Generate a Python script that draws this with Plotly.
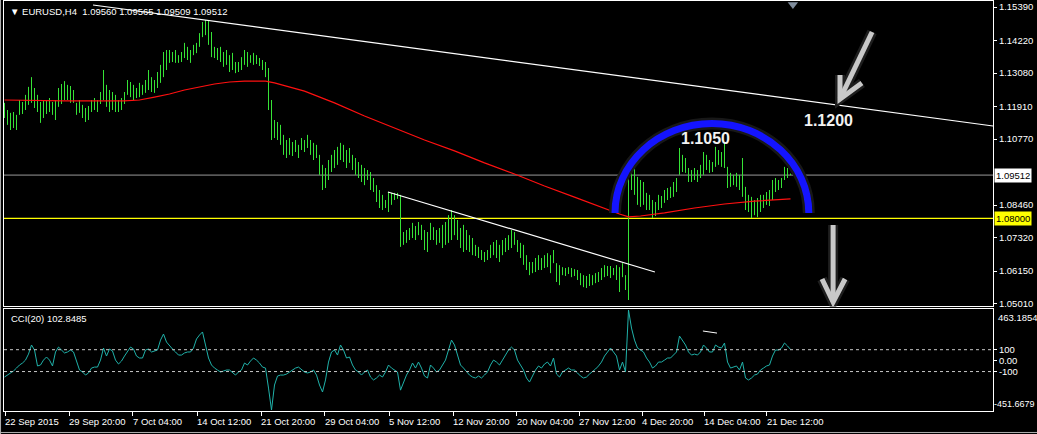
import plotly.graph_objects as go

# ---------------- data ----------------
highs = [1.1204, 1.1179, 1.1169, 1.1172, 1.1162, 1.1214, 1.1207, 1.1232, 1.1260, 1.1294,
         1.1256, 1.1232, 1.1207, 1.1214, 1.1214, 1.1221, 1.1207, 1.1214, 1.1256, 1.1270,
         1.1280, 1.1267, 1.1263, 1.1249, 1.1204, 1.1214, 1.1197, 1.1186, 1.1193, 1.1214,
         1.1221, 1.1214, 1.1242, 1.1319, 1.1267, 1.1249, 1.1242, 1.1232, 1.1214, 1.1221,
         1.1242, 1.1284, 1.1277, 1.1267, 1.1256, 1.1274, 1.1267, 1.1284, 1.1319, 1.1294,
         1.1284, 1.1312, 1.1337, 1.1382, 1.1389, 1.1389, 1.1382, 1.1389, 1.1371, 1.1382,
         1.1414, 1.1400, 1.1389, 1.1407, 1.1414, 1.1448, 1.1487, 1.1494, 1.1494, 1.1452,
         1.1400, 1.1396, 1.1400, 1.1382, 1.1389, 1.1371, 1.1379, 1.1347, 1.1347, 1.1364,
         1.1389, 1.1382, 1.1371, 1.1379, 1.1371, 1.1361, 1.1354, 1.1347, 1.1326, 1.1214,
         1.1144, 1.1137, 1.1127, 1.1092, 1.1074, 1.1081, 1.1067, 1.1074, 1.1057, 1.1081,
         1.1074, 1.1092, 1.1074, 1.1064, 1.1057, 1.1022, 1.0987, 1.0976, 1.1004, 1.1022,
         1.1039, 1.1050, 1.1064, 1.1057, 1.1039, 1.1046, 1.1022, 1.1011, 1.0997, 1.0987,
         1.0976, 1.0969, 1.0962, 1.0941, 1.0916, 1.0899, 1.0882, 1.0864, 1.0892, 1.0889,
         1.0889, 1.0889, 1.0882, 1.0752, 1.0759, 1.0766, 1.0784, 1.0773, 1.0787, 1.0777,
         1.0759, 1.0752, 1.0784, 1.0769, 1.0759, 1.0766, 1.0777, 1.0787, 1.0811, 1.0829,
         1.0811, 1.0794, 1.0766, 1.0777, 1.0759, 1.0741, 1.0731, 1.0707, 1.0700, 1.0689,
         1.0682, 1.0689, 1.0707, 1.0717, 1.0724, 1.0707, 1.0724, 1.0731, 1.0741, 1.0759,
         1.0752, 1.0724, 1.0714, 1.0707, 1.0671, 1.0647, 1.0647, 1.0661, 1.0671, 1.0661,
         1.0671, 1.0678, 1.0671, 1.0689, 1.0643, 1.0636, 1.0629, 1.0626, 1.0629, 1.0626,
         1.0622, 1.0619, 1.0608, 1.0601, 1.0598, 1.0605, 1.0601, 1.0608, 1.0612, 1.0626,
         1.0636, 1.0633, 1.0633, 1.0626, 1.0636, 1.0629, 1.0643, 1.0601, 1.0987, 1.0980,
         1.0976, 1.0945, 1.0934, 1.0927, 1.0889, 1.0882, 1.0864, 1.0857, 1.0882, 1.0878,
         1.0899, 1.0906, 1.0910, 1.0927, 1.0941, 1.1046, 1.1022, 1.1011, 1.0976, 1.0969,
         1.0976, 1.0969, 1.0987, 1.1032, 1.1022, 1.1004, 1.0997, 1.1050, 1.1039, 1.1032,
         1.1064, 1.0980, 1.0959, 1.0952, 1.0959, 1.0952, 1.1011, 1.0910, 1.0882, 1.0875,
         1.0864, 1.0871, 1.0882, 1.0882, 1.0892, 1.0899, 1.0934, 1.0941, 1.0934, 1.0941,
         1.0980, 1.0976, 1.09565]

lows = [1.1151, 1.1127, 1.1109, 1.1116, 1.1109, 1.1162, 1.1165, 1.1179, 1.1197, 1.1204,
        1.1186, 1.1172, 1.1134, 1.1151, 1.1165, 1.1172, 1.1162, 1.1144, 1.1190, 1.1200,
        1.1214, 1.1214, 1.1204, 1.1204, 1.1162, 1.1169, 1.1151, 1.1137, 1.1144, 1.1172,
        1.1179, 1.1172, 1.1200, 1.1214, 1.1190, 1.1172, 1.1179, 1.1172, 1.1172, 1.1179,
        1.1200, 1.1232, 1.1224, 1.1214, 1.1221, 1.1224, 1.1232, 1.1239, 1.1249, 1.1242,
        1.1239, 1.1256, 1.1274, 1.1294, 1.1319, 1.1344, 1.1347, 1.1344, 1.1344, 1.1347,
        1.1361, 1.1354, 1.1344, 1.1371, 1.1378, 1.1400, 1.1434, 1.1441, 1.1407, 1.1364,
        1.1361, 1.1354, 1.1347, 1.1330, 1.1337, 1.1312, 1.1319, 1.1308, 1.1312, 1.1319,
        1.1337, 1.1330, 1.1344, 1.1337, 1.1340, 1.1333, 1.1319, 1.1294, 1.1179, 1.1074,
        1.1081, 1.1074, 1.1057, 1.1022, 1.1011, 1.1022, 1.1018, 1.1032, 1.1011, 1.1039,
        1.1032, 1.1046, 1.1022, 1.1004, 1.1011, 1.0952, 1.0899, 1.0906, 1.0934, 1.0962,
        1.0976, 1.0987, 1.1004, 1.0997, 1.0976, 1.0994, 1.0969, 1.0952, 1.0941, 1.0927,
        1.0916, 1.0934, 1.0899, 1.0892, 1.0857, 1.0836, 1.0829, 1.0836, 1.0822, 1.0847,
        1.0864, 1.0868, 1.0700, 1.0707, 1.0714, 1.0724, 1.0731, 1.0724, 1.0741, 1.0724,
        1.0689, 1.0682, 1.0724, 1.0724, 1.0707, 1.0714, 1.0696, 1.0707, 1.0714, 1.0724,
        1.0741, 1.0724, 1.0696, 1.0682, 1.0689, 1.0682, 1.0671, 1.0668, 1.0661, 1.0654,
        1.0647, 1.0654, 1.0661, 1.0671, 1.0661, 1.0647, 1.0671, 1.0682, 1.0689, 1.0696,
        1.0707, 1.0682, 1.0661, 1.0637, 1.0619, 1.0601, 1.0608, 1.0612, 1.0619, 1.0619,
        1.0626, 1.0629, 1.0608, 1.0643, 1.0577, 1.0566, 1.0601, 1.0598, 1.0605, 1.0594,
        1.0598, 1.0584, 1.0566, 1.0559, 1.0556, 1.0563, 1.0566, 1.0573, 1.0577, 1.0584,
        1.0594, 1.0598, 1.0591, 1.0601, 1.0584, 1.0542, 1.0594, 1.0549, 1.0514, 1.0899,
        1.0882, 1.0847, 1.0840, 1.0847, 1.0829, 1.0829, 1.0801, 1.0808, 1.0829, 1.0836,
        1.0854, 1.0864, 1.0871, 1.0875, 1.0892, 1.0952, 1.0962, 1.0959, 1.0927, 1.0927,
        1.0934, 1.0927, 1.0941, 1.0952, 1.0969, 1.0959, 1.0962, 1.0980, 1.0987, 1.0980,
        1.0976, 1.0906, 1.0910, 1.0916, 1.0910, 1.0899, 1.0875, 1.0829, 1.0822, 1.0801,
        1.0811, 1.0804, 1.0822, 1.0836, 1.0847, 1.0843, 1.0864, 1.0892, 1.0899, 1.0906,
        1.0934, 1.0941, 1.09509]

ma_idx = [0, 20, 40, 45, 50, 55, 60, 65, 70, 75, 80, 87, 90, 100, 110, 120, 130, 140,
          150, 160, 170, 180, 190, 200, 205, 208, 212, 220, 230, 240, 250, 262]
ma_vals = [1.1214, 1.1211, 1.1211, 1.1214, 1.1224, 1.1235, 1.1249, 1.1260, 1.1270, 1.1277,
           1.1280, 1.1280, 1.1274, 1.1245, 1.1204, 1.1158, 1.1116, 1.1074, 1.1036, 1.0994,
           1.0955, 1.0913, 1.0874, 1.0833, 1.0815, 1.0805, 1.0808, 1.0819, 1.0836, 1.0850,
           1.0860, 1.0868]

cci = [-150, -132, -113, -95, -68, -40, -22, 5, 60, 143,
       97, -49, -40, 5, 33, 5, -49, 79, 124, 97,
       70, 79, 97, 79, -13, -86, -104, -132, -113, -68,
       -59, -59, 5, 115, 42, 106, 88, 5, -31, -4,
       42, 88, 124, 106, 42, 24, 24, 97, 106, 79,
       88, 97, 188, 243, 170, 134, 106, 79, 51, 51,
       70, 79, 79, 115, 198, 234, 262, 143, 24, -40,
       -68, -86, -104, -95, -86, -86, -113, -132, -104, -86,
       -22, -40, -4, 24, 5, -22, -59, -68, -251, -451.6679,
       -223, -141, -132, -132, -123, -104, -86, -68, -59, -86,
       -104, -113, -104, -86, -132, -223, -287, -177, -13, 79,
       97, 51, 143, 97, 24, 33, -40, -86, -104, -132,
       -104, -86, -150, -177, -159, -132, -150, -104, -40, -68,
       -86, -104, -270, -196, -132, -86, -22, -68, -13, -68,
       -141, -159, -40, -68, -104, -86, -40, 5, 97, 188,
       143, 51, -40, -68, -104, -132, -150, -159, -141, -159,
       -132, -104, -40, 5, -13, -40, 5, 51, 97, 124,
       97, 5, -40, -86, -159, -196, -141, -86, -49, -68,
       -31, -13, -49, 24, -123, -150, -104, -86, -68, -86,
       -86, -113, -141, -159, -150, -123, -104, -77, -49, -13,
       42, 79, 115, 79, 42, -86, -13, -104, 463.1854, 298,
       188, 115, 97, 79, 24, -13, -68, -49, -13, -13,
       5, 24, 24, 51, 79, 225, 188, 143, 79, 51,
       60, 51, 79, 143, 115, 79, 79, 143, 124, 115,
       161, -13, -68, -59, -49, -86, -13, -159, -177, -159,
       -132, -123, -86, -68, -49, -40, 42, 97, 97, 115,
       161, 134, 102.8485]

price_ticks = [1.1539, 1.1422, 1.1308, 1.1191, 1.1077, 1.0846, 1.0732, 1.0615, 1.0501]
cci_ticks = [100, 0, -100]
cci_tick_text = ["100", "0.00", "-100"]
time_labels = ["22 Sep 2015", "29 Sep 20:00", "7 Oct 04:00", "14 Oct 12:00", "21 Oct 20:00",
               "29 Oct 04:00", "5 Nov 12:00", "12 Nov 20:00", "20 Nov 04:00", "27 Nov 12:00",
               "4 Dec 20:00", "14 Dec 04:00", "21 Dec 12:00"]
time_tick_idx = [0.17, 21.5, 42.8, 64.2, 85.5, 106.8, 128.2, 149.5, 170.8, 191.5, 212.5, 233.2, 254.0]

current_price = 1.09512
support_level = 1.08000
cci_max, cci_min = 463.1854, -451.6679

# drawings (trendlines / arrows / arc) in chart coordinates
upper_trend = ([29.5, 329.5], [1.15465, 1.1123])
lower_trend = ([127.8, 216.8], [1.0892, 1.0612])

# ---------------- figure ----------------
n = len(highs)
bx, by = [], []
for i in range(n):
    bx += [i, i, None]
    by += [lows[i], highs[i], None]

WHITE = "#ffffff"
FONT = "Liberation Sans"

fig = go.Figure()
fig.add_trace(go.Scatter(x=bx, y=by, mode="lines", line=dict(color="#36e336", width=1),
                         hoverinfo="skip", xaxis="x", yaxis="y"))
fig.add_trace(go.Scatter(x=ma_idx, y=ma_vals, mode="lines", line=dict(color="#ff1010", width=1.2),
                         hoverinfo="skip", xaxis="x", yaxis="y"))
fig.add_trace(go.Scatter(x=list(range(len(cci))), y=cci, mode="lines",
                         line=dict(color="#20b2aa", width=1), hoverinfo="skip",
                         xaxis="x2", yaxis="y2"))
# chart shift marker
fig.add_trace(go.Scatter(x=[262.8], y=[1.1548], mode="markers", cliponaxis=False,
                         marker=dict(symbol="triangle-down", size=9, color="#7f8c9c"),
                         hoverinfo="skip", xaxis="x", yaxis="y"))

xr = [-0.1667, 329.5]
ax_common = dict(showgrid=False, zeroline=False, showline=True, mirror=True,
                 linecolor=WHITE, linewidth=1)
fig.update_layout(
    width=1037, height=434,
    margin=dict(l=4, r=44, t=1, b=23, autoexpand=False),
    paper_bgcolor="#000000", plot_bgcolor="#000000",
    showlegend=False,
    hovermode=False,
    xaxis=dict(domain=[0, 1], range=xr, anchor="y", showticklabels=False, ticks="", **ax_common),
    yaxis=dict(domain=[0.2549, 1], range=[1.04913, 1.15605], side="right", anchor="x",
               tickvals=price_ticks, ticktext=[f"{v:.5f}" for v in price_ticks],
               ticks="outside", ticklen=3, tickcolor=WHITE,
               tickfont=dict(color=WHITE, size=9.5, family=FONT), **ax_common),
    xaxis2=dict(domain=[0, 1], range=xr, anchor="y2", tickvals=time_tick_idx,
                showticklabels=False, ticks="outside", ticklen=4, tickcolor=WHITE, **ax_common),
    yaxis2=dict(domain=[0, 0.2488], range=[-460.8, 472.3], side="right", anchor="x2",
                tickvals=cci_ticks, ticktext=cci_tick_text,
                ticks="outside", ticklen=3, tickcolor=WHITE,
                tickfont=dict(color=WHITE, size=9.5, family=FONT), **ax_common),
)

shapes = []
# horizontal levels
shapes.append(dict(type="line", xref="x domain", x0=0, x1=1, yref="y", y0=current_price, y1=current_price,
                   line=dict(color="#9a9a9a", width=1), layer="below"))
shapes.append(dict(type="line", xref="x domain", x0=0, x1=1, yref="y", y0=support_level, y1=support_level,
                   line=dict(color="#ffff00", width=1.2), layer="below"))
# trendlines
for (xs, ys) in (upper_trend, lower_trend):
    shapes.append(dict(type="line", xref="x", yref="y", x0=xs[0], x1=xs[1], y0=ys[0], y1=ys[1],
                       line=dict(color=WHITE, width=1.2)))
# CCI levels
for lv in (100, -100):
    shapes.append(dict(type="line", xref="x2 domain", x0=0, x1=1, yref="y2", y0=lv, y1=lv,
                       line=dict(color="#c8c8c8", width=1, dash="3px,3px")))
# small drawn dash in CCI window
shapes.append(dict(type="line", xref="x2", yref="y2", x0=232.8, x1=237.5, y0=271, y1=252,
                   line=dict(color=WHITE, width=1)))

# blue half-ellipse ("cup") made of two cubic Bezier quarters
cx, cy, rx, ry, k = 235.8, 1.08185, 32.3, 0.0313, 0.5523
arc = (f"M {cx-rx},{cy} C {cx-rx},{cy+k*ry} {cx-k*rx},{cy+ry} {cx},{cy+ry} "
       f"C {cx+k*rx},{cy+ry} {cx+rx},{cy+k*ry} {cx+rx},{cy}")
shapes.append(dict(type="path", xref="x", yref="y", path=arc, line=dict(color="#181818", width=12)))
shapes.append(dict(type="path", xref="x", yref="y", path=arc, line=dict(color="#1414ff", width=7)))

# gray arrows
arrows = [
    [(289.2, 1.1452), (278.5, 1.12175)],
    [(278.5, 1.13015), (278.5, 1.12175), (285.8, 1.12735)],
    [(276.2, 1.07765), (276.2, 1.0507)],
    [(272.5, 1.05875), (276.2, 1.0507), (280.2, 1.05875)],
]
for col, w in (("#1e1e1e", 10), ("#c8c8c8", 5)):
    for pts in arrows:
        p = "M " + " L ".join(f"{a},{b}" for a, b in pts)
        shapes.append(dict(type="path", xref="x", yref="y", path=p,
                           line=dict(color=col, width=w)))

# outer window border (left & bottom)
shapes.append(dict(type="line", xref="paper", yref="paper", x0=-0.0035, x1=-0.0035, y0=-0.06, y1=1.01,
                   line=dict(color="#b0b0b0", width=1)))
shapes.append(dict(type="line", xref="paper", yref="paper", x0=-0.01, x1=1.05, y0=-0.0524, y1=-0.0524,
                   line=dict(color="#b0b0b0", width=1)))
fig.update_layout(shapes=shapes)

ann = []
NB = "\u00a0"
ann.append(dict(xref="paper", yref="paper", x=0.004, y=0.9732, xanchor="left", yanchor="middle",
                text=f"▼{NB}EURUSD,H4{NB}{NB}1.09560{NB}1.09565{NB}1.09509{NB}1.09512",
                showarrow=False, font=dict(color=WHITE, size=9.5, family=FONT)))
ann.append(dict(xref="paper", yref="paper", x=0.005, y=0.2244, xanchor="left", yanchor="middle",
                text=f"CCI(20){NB}{cci[-1]:.4f}", showarrow=False,
                font=dict(color=WHITE, size=9.5, family=FONT)))
# time axis labels
for lab, xi in zip(time_labels, time_tick_idx):
    ann.append(dict(xref="x2", yref="paper", x=xi, y=0, xanchor="left", yanchor="middle",
                    yshift=-10, xshift=-2, text=lab.replace(" ", NB), showarrow=False,
                    font=dict(color=WHITE, size=9.5, family=FONT)))
# CCI extreme labels
ann.append(dict(xref="paper", yref="y2 domain", x=1.0, y=0.912, xanchor="left", yanchor="middle",
                xshift=3, text=f"{cci_max:.4f}", showarrow=False,
                font=dict(color=WHITE, size=9.5, family=FONT)))
ann.append(dict(xref="paper", yref="y2 domain", x=1.0, y=0.069, xanchor="left", yanchor="middle",
                xshift=-1, text=f"{cci_min:.4f}", showarrow=False,
                font=dict(color=WHITE, size=9, family=FONT)))
# price boxes on the right axis
ann.append(dict(xref="paper", yref="y", x=1.0, y=current_price, xanchor="left", yanchor="middle",
                xshift=1, text=f"{current_price:.5f}", showarrow=False, bgcolor="#ffffff",
                borderpad=1, font=dict(color="#000000", size=9.5, family=FONT)))
ann.append(dict(xref="paper", yref="y", x=1.0, y=support_level, xanchor="left", yanchor="middle",
                xshift=1, text=f"{support_level:.5f}", showarrow=False, bgcolor="#ffff00",
                borderpad=1, font=dict(color="#000000", size=9.5, family=FONT)))
# level callouts
ann.append(dict(xref="x", yref="y", x=233.8, y=1.1081, text="<b>1.1050</b>", showarrow=False,
                font=dict(color="#f2f2f2", size=16, family=FONT)))
ann.append(dict(xref="x", yref="y", x=274.8, y=1.1144, text="<b>1.1200</b>", showarrow=False,
                font=dict(color="#f2f2f2", size=16, family=FONT)))
fig.update_layout(annotations=ann)

fig.write_html("out.html", config={"displayModeBar": False},
               post_script="document.body.style.margin='0';document.body.style.overflow='hidden';")
